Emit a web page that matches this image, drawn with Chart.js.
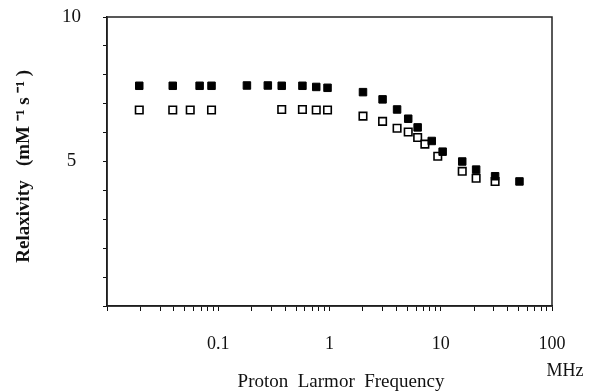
<!DOCTYPE html>
<html>
<head>
<meta charset="utf-8">
<script src="https://cdn.jsdelivr.net/npm/chart.js@4/dist/chart.umd.min.js"></script>
<style>
  html, body { margin: 0; padding: 0; background: #fff; }
  #wrap { width: 589px; height: 392px; }
</style>
</head>
<body>
<div id="wrap"><canvas id="relaxChart" width="589" height="392"></canvas></div>
<script>
// proton Larmor frequency (MHz) and relaxivity (mM-1 s-1)
const filledFreq = [0.0195, 0.039, 0.068, 0.087, 0.181, 0.279, 0.372, 0.571, 0.76, 0.96,
                    2.0, 3.0, 4.05, 5.1, 6.2, 8.3, 10.4, 15.6, 20.8, 30.8, 51];
const filledRelax = [7.62, 7.62, 7.62, 7.62, 7.63, 7.63, 7.62, 7.62, 7.58, 7.55,
                     7.40, 7.15, 6.80, 6.48, 6.18, 5.71, 5.34, 5.00, 4.72, 4.49, 4.31];
const openFreq = [0.0195, 0.039, 0.056, 0.087, 0.372, 0.571, 0.76, 0.96,
                  2.0, 3.0, 4.05, 5.1, 6.2, 7.2, 9.4, 15.6, 20.8, 30.8];
const openRelax = [6.78, 6.78, 6.78, 6.78, 6.80, 6.80, 6.78, 6.78,
                   6.57, 6.39, 6.15, 6.02, 5.83, 5.60, 5.18, 4.66, 4.42, 4.31];
const xLabels = ['0.1', '1', '10', '100'];
const yLabels = ['5', '10'];

const serif = 'Liberation Serif';

function toPoints(xs, ys) {
    return xs.map((x, i) => ({ x: x, y: ys[i] }));
}

// extra texts and the frame round the plot
const frame = {
    id: 'frame',
    afterDraw(chart) {
        const ctx = chart.ctx;
        const a = chart.chartArea;
        ctx.save();
        ctx.strokeStyle = '#222';
        ctx.lineWidth = 1.5;
        ctx.strokeRect(a.left, a.top, a.right - a.left, a.bottom - a.top);
        ctx.fillStyle = '#111';
        ctx.textAlign = 'center';
        ctx.textBaseline = 'middle';
        ctx.font = '18px "' + serif + '"';
        ctx.fillText('MHz', 565, 371);
        ctx.font = '19px "' + serif + '"';
        ctx.fillText('Proton  Larmor  Frequency', 341, 382);
        ctx.restore();
    }
};

const ctx = document.getElementById('relaxChart').getContext('2d');
new Chart(ctx, {
    type: 'scatter',
    data: {
        datasets: [{
            label: 'filled',
            data: toPoints(filledFreq, filledRelax),
            pointStyle: 'rect',
            pointRadius: 5.3,
            backgroundColor: '#000',
            borderColor: '#000',
            borderWidth: 1
        }, {
            label: 'open',
            data: toPoints(openFreq, openRelax),
            pointStyle: 'rect',
            pointRadius: 5.3,
            backgroundColor: '#fff',
            borderColor: '#000',
            borderWidth: 1.6
        }]
    },
    options: {
        responsive: false,
        animation: false,
        layout: { autoPadding: false, padding: { left: 0, right: 37, top: 17, bottom: 0 } },
        plugins: {
            legend: { display: false },
            tooltip: { enabled: false }
        },
        scales: {
            x: {
                type: 'logarithmic',
                min: 0.01,
                max: 100,
                afterBuildTicks(scale) {
                    const ticks = [];
                    [0.01, 0.1, 1, 10].forEach(d => {
                        for (let k = 1; k < 10; k++) ticks.push({ value: d * k });
                    });
                    ticks.push({ value: 100 });
                    scale.ticks = ticks;
                },
                afterFit(scale) {
                    scale.height = 86;
                    scale.paddingLeft = 0;
                    scale.paddingRight = 0;
                },
                border: { display: true, color: '#111', width: 1.5 },
                grid: { drawOnChartArea: false, drawTicks: true, tickLength: 5, color: '#111', tickColor: '#111' },
                ticks: {
                    autoSkip: false,
                    maxRotation: 0,
                    padding: 22,
                    color: '#111',
                    font: { family: serif, size: 18 },
                    callback(value) {
                        const s = String(Number(value.toPrecision(3)));
                        return xLabels.includes(s) ? s : '';
                    }
                }
            },
            y: {
                min: 0,
                max: 10,
                afterFit(scale) {
                    scale.width = 107;
                    scale.paddingTop = 0;
                    scale.paddingBottom = 0;
                },
                border: { display: true, color: '#111', width: 1.5 },
                grid: { drawOnChartArea: false, drawTicks: true, tickLength: 4, color: '#111', tickColor: '#111' },
                ticks: {
                    stepSize: 1,
                    padding: 22,
                    crossAlign: 'center',
                    color: '#111',
                    font: { family: serif, size: 19 },
                    callback(value) {
                        const s = String(value);
                        return yLabels.includes(s) ? s : '';
                    }
                },
                title: {
                    display: true,
                    text: 'Relaxivity   (mM \u207B\u00B9 s \u207B\u00B9 )  ',
                    color: '#111',
                    font: { family: serif, size: 19, weight: 'bold' },
                    padding: { top: 13, bottom: 0 }
                }
            }
        }
    },
    plugins: [frame]
});
</script>
</body>
</html>
